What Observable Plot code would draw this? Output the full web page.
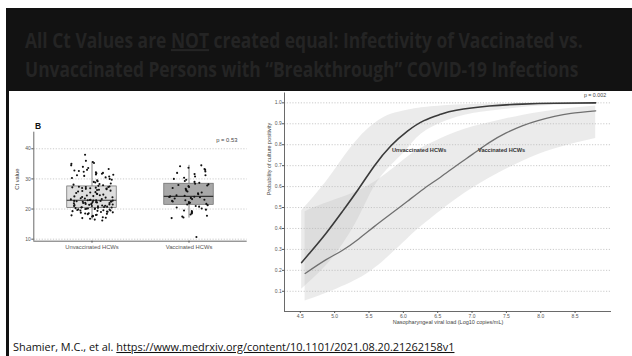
<!DOCTYPE html>
<html><head><meta charset="utf-8">
<script src="https://cdn.jsdelivr.net/npm/d3@7"></script>
<script src="https://cdn.jsdelivr.net/npm/@observablehq/plot@0.6"></script>
<style>
html,body{margin:0;padding:0;background:#fff;width:632px;height:356px;overflow:hidden;}
#slide{position:relative;width:632px;height:356px;font-family:"Liberation Sans",Arial,sans-serif;}
.abs{position:absolute;}
</style></head><body><div id="slide"></div>
<script>
// ---------- text ----------
const titleLine1 = ["All Ct Values are ", "NOT", " created equal: Infectivity of Vaccinated vs."];
const titleLine2 = ["Unvaccinated Persons with \u201cBreakthrough\u201d COVID-19 Infections"];
const citeParts = ["Shamier, M.C., et al. ", "https://www.medrxiv.org/content/10.1101/2021.08.20.21262158v1"];

// ---------- panel B (box + jitter) ----------
const groups = ["Unvaccinated HCWs", "Vaccinated HCWs"];
const ctUnvax = [16.2,16.5,16.8,17.0,17.1,17.3,17.5,17.6,17.8,17.9,18.0,18.1,18.3,18.4,18.5,18.6,18.8,18.9,19.0,19.1,19.2,19.3,19.4,19.5,19.5,19.6,19.7,19.8,19.9,20.0,20.0,20.1,20.2,20.2,20.3,
20.4,20.5,20.5,20.6,20.7,20.8,20.9,21.0,21.0,21.1,21.2,21.3,21.4,21.5,21.5,21.6,21.7,21.8,21.9,22.0,22.0,22.1,22.2,22.3,22.3,22.4,22.5,22.5,22.6,22.7,22.7,22.8,22.8,22.9,22.9,
23.0,23.1,23.2,23.3,23.5,23.6,23.8,23.9,24.0,24.2,24.3,24.5,24.6,24.8,25.0,25.1,25.3,25.5,25.6,25.8,26.0,26.1,26.3,26.4,26.6,26.7,26.8,26.9,27.0,27.1,27.2,27.3,27.3,27.4,27.5,
27.7,27.9,28.1,28.3,28.5,28.8,29.0,29.2,29.5,29.7,30.0,30.3,30.5,30.8,31.0,31.2,31.4,31.5,31.7,31.9,32.0,32.2,32.4,32.6,32.8,33.0,33.3,33.6,34.0,34.5,35.0,35.3,35.6,36.0,38.0];
const ctVax = [17.0,17.2,17.5,17.8,18.2,18.5,18.8,19.0,19.3,19.5,19.8,20.2,20.5,20.8,21.0,21.3,
21.5,21.7,21.9,22.1,22.3,22.5,22.7,22.9,23.1,23.3,23.5,23.7,23.9,24.0,24.1,24.2,
24.4,24.6,24.9,25.2,25.5,25.8,26.1,26.4,26.7,27.0,27.3,27.6,27.8,28.0,28.2,28.4,
28.7,29.0,29.3,29.7,30.0,30.4,30.8,31.2,31.6,32.0,32.5,33.0,33.3,33.7,34.2,34.5,10.7];
const boxQ1 = [20.3, 21.4];
const boxMedian = [22.9, 24.2];
const boxQ3 = [27.5, 28.4];
const whiskerLo = [16.4, 17.0];
const whiskerHi = [35.6, 34.5];
const boxFill = ["#dedede", "#a8a8a8"];
const ctTicks = [10, 20, 30, 40];
const pLeft = "p = 0.53";

// ---------- right panel (logistic curves) ----------
const vlTicks = [4.5,5.0,5.5,6.0,6.5,7.0,7.5,8.0,8.5];
const probTicks = [0.1,0.2,0.3,0.4,0.5,0.6,0.7,0.8,0.9,1.0];
const unvaxX =    [4.52,4.63,4.87,5.11,5.35,5.58,5.82,6.06,6.30,6.54,6.77,7.25,7.73,8.20,8.80];
const unvaxProb = [0.237,0.28,0.375,0.48,0.59,0.70,0.795,0.865,0.915,0.945,0.965,0.985,0.994,0.998,1.0];
const vaxX =    [4.57,4.87,5.11,5.35,5.58,5.82,6.06,6.30,6.54,6.77,7.01,7.25,7.49,7.73,7.96,8.20,8.44,8.80];
const vaxProb = [0.185,0.25,0.295,0.35,0.41,0.47,0.53,0.59,0.645,0.70,0.755,0.81,0.855,0.89,0.915,0.935,0.95,0.962];
const unvaxBandX  = [4.52,4.87,5.11,5.35,5.58,5.82,6.06,6.30,6.77,7.25,7.73,8.20,8.80];
const unvaxBandLo = [0.11,0.22,0.32,0.45,0.60,0.70,0.78,0.86,0.93,0.96,0.978,0.988,0.995];
const unvaxBandHi = [0.485,0.62,0.73,0.83,0.90,0.945,0.965,0.978,0.99,0.995,0.998,0.999,1.0];
const vaxBandX  = [4.57,4.87,5.35,5.73,6.06,6.30,6.77,7.25,7.73,8.20,8.80];
const vaxBandLo = [0.054,0.09,0.16,0.25,0.35,0.42,0.54,0.64,0.72,0.78,0.83];
const vaxBandHi = [0.48,0.52,0.58,0.655,0.74,0.79,0.86,0.905,0.94,0.965,0.985];
const curveLabels = ["Unvaccinated HCWs", "Vaccinated HCWs"];
const curveLabelX = [6.23, 7.43];
const curveLabelY = [0.772, 0.772];
const pRight = "p = 0.002";
const xLabel = "Nasopharyngeal viral load (Log10 copies/mL)";
const yLabelR = "Probability of culture positivity";
const yLabelL = "Ct value";

const slide = document.getElementById("slide");
const NS = "http://www.w3.org/2000/svg";
const FONT = "'Liberation Sans', Arial, sans-serif";

// ---------- header band, frame bar and citation ----------
{
  const svg = document.createElementNS(NS, "svg");
  svg.setAttribute("width", 632); svg.setAttribute("height", 356);
  svg.setAttribute("class", "abs"); svg.style.left = "0px"; svg.style.top = "0px";
  svg.innerHTML = `
    <rect x="6" y="8" width="626" height="83" fill="#121212"/>
    <rect x="6" y="8" width="3" height="348" fill="#111"/>`;
  slide.appendChild(svg);
  // fitted text: parts, underline index, x, baseline, target width, font size, weight, colour
  function fitted(parts, ul, x, y, target, size, weight, color) {
    const t = document.createElementNS(NS, "text");
    t.setAttribute("font-family", "'Open Sans', sans-serif");
    t.setAttribute("font-size", size);
    t.setAttribute("font-weight", weight);
    t.setAttribute("fill", color);
    parts.forEach((p, i) => {
      const s = document.createElementNS(NS, "tspan");
      s.textContent = p;
      if (i === ul) s.setAttribute("style", "text-decoration:underline");
      t.appendChild(s);
    });
    svg.appendChild(t);
    const w = t.getComputedTextLength();
    t.setAttribute("transform", `translate(${x},${y}) scale(${target / w},1)`);
  }
  fitted(titleLine1, 1, 25, 48, 558, 21, 700, "#242424");
  fitted(titleLine2, -1, 25, 77, 554, 21, 700, "#242424");
  fitted(citeParts, 1, 13, 351, 442, 10.5, 400, "#111");
}

// deterministic scatter offset for the jitter (layout only)
const jit = (i, k) => { const s = Math.sin((i + 1) * 12.9898 + k * 78.233) * 43758.5453; return s - Math.floor(s) - 0.5; };

// ---------- left panel ----------
{
  const dots = [];
  ctUnvax.forEach((v, i) => dots.push({g: 1, ct: v, j: jit(i, 1) * 0.44}));
  ctVax.forEach((v, i) => dots.push({g: 2, ct: v, j: jit(i, 2) * 0.42}));
  const boxes = groups.map((name, i) => ({g: i + 1, q1: boxQ1[i], med: boxMedian[i], q3: boxQ3[i], lo: whiskerLo[i], hi: whiskerHi[i], fill: boxFill[i]}));
  const hw = 0.255;
  const chart = Plot.plot({
    width: 250, height: 150,
    marginLeft: 25.3, marginRight: 11.3, marginTop: 23.7, marginBottom: 17.3,
    x: {domain: [0.4, 2.6]},
    y: {domain: [9.33, 45.5]},
    style: {fontFamily: FONT, background: "transparent", overflow: "visible"},
    marks: [
      Plot.ruleY(ctTicks, {stroke: "#b5b5b5", strokeWidth: 0.7, strokeDasharray: "1.2,1.6"}),
      Plot.ruleX(boxes, {x: "g", y1: "q3", y2: "hi", stroke: "#666", strokeWidth: 0.8}),
      Plot.ruleX(boxes, {x: "g", y1: "lo", y2: "q1", stroke: "#666", strokeWidth: 0.8}),
      Plot.rect(boxes, {x1: d => d.g - hw, x2: d => d.g + hw, y1: "q1", y2: "q3", fill: "fill", stroke: "#666", strokeWidth: 0.7}),
      Plot.ruleY(boxes, {y: "med", x1: d => d.g - hw, x2: d => d.g + hw, stroke: "#333", strokeWidth: 1.1}),
      Plot.dot(dots, {x: d => d.g + d.j, y: "ct", r: 1.05, fill: "#111", stroke: null}),
      Plot.ruleX([0.4], {stroke: "#444", strokeWidth: 0.8}),
      Plot.ruleY([9.33], {stroke: "#444", strokeWidth: 0.8}),
      Plot.axisY(ctTicks, {tickSize: 2, tickPadding: 1, fontSize: 5, fill: "#555", stroke: "#555", label: null}),
      Plot.axisX([1, 2], {tickFormat: i => groups[i - 1], tickSize: 2, tickPadding: 2, fontSize: 5.8, fill: "#555", stroke: "#555", label: null}),
      Plot.text([yLabelL], {frameAnchor: "left", dx: -16.6, dy: 3, rotate: -90, fontSize: 5.8, fill: "#444"}),
      Plot.text([pLeft], {x: 2.39, y: 42.8, fontSize: 5.8, fill: "#444"}),
      Plot.text(["B"], {frameAnchor: "top-left", textAnchor: "start", dx: 1.2, dy: -9, fontSize: 8.5, fontWeight: "bold", fill: "#111"})
    ]
  });
  chart.setAttribute("class", "abs");
  chart.style.left = "8px"; chart.style.top = "108px";
  slide.appendChild(chart);
}

// ---------- right panel ----------
{
  const unvaxLine = unvaxX.map((x, i) => ({x, p: unvaxProb[i]}));
  const vaxLine = vaxX.map((x, i) => ({x, p: vaxProb[i]}));
  const unvaxBand = unvaxBandX.map((x, i) => ({x, lo: unvaxBandLo[i], hi: unvaxBandHi[i]}));
  const vaxBand = vaxBandX.map((x, i) => ({x, lo: vaxBandLo[i], hi: vaxBandHi[i]}));
  const labels = curveLabels.map((t, i) => ({t, x: curveLabelX[i], y: curveLabelY[i]}));
  const chart = Plot.plot({
    width: 370, height: 246,
    marginLeft: 22, marginRight: 21, marginTop: 2.5, marginBottom: 25,
    x: {domain: [4.27, 9.03]},
    y: {domain: [0.0035, 1.047]},
    style: {fontFamily: FONT, background: "transparent", overflow: "visible"},
    marks: [
      Plot.ruleY(probTicks, {stroke: "#b5b5b5", strokeWidth: 0.7, strokeDasharray: "1.2,1.6"}),
      Plot.areaY(unvaxBand, {x: "x", y1: "lo", y2: "hi", fill: "#bdbdbd", fillOpacity: 0.3, curve: "natural"}),
      Plot.areaY(vaxBand, {x: "x", y1: "lo", y2: "hi", fill: "#bdbdbd", fillOpacity: 0.3, curve: "natural"}),
      Plot.line(vaxLine, {x: "x", y: "p", stroke: "#707070", strokeWidth: 1.3, curve: "natural"}),
      Plot.line(unvaxLine, {x: "x", y: "p", stroke: "#3a3a3a", strokeWidth: 1.6, curve: "natural"}),
      Plot.text(labels, {x: "x", y: "y", text: "t", fontSize: 5.6, fontWeight: "bold", fill: "#333"}),
      Plot.text([pRight], {x: 8.79, y: 1.035, fontSize: 5.3, fill: "#444"}),
      Plot.ruleX([4.27], {stroke: "#444", strokeWidth: 0.8}),
      Plot.ruleY([0.0035], {stroke: "#444", strokeWidth: 0.8}),
      Plot.axisY(probTicks, {tickFormat: d => d.toFixed(1), tickSize: 2, tickPadding: 0.8, fontSize: 5, fill: "#555", stroke: "#555", label: null}),
      Plot.axisX(vlTicks, {tickFormat: d => d.toFixed(1), tickSize: 2, tickPadding: 1, fontSize: 5, fill: "#555", stroke: "#555", label: null}),
      Plot.text([xLabel], {frameAnchor: "bottom", dy: 12.5, fontSize: 5.5, fill: "#444"}),
      Plot.text([yLabelR], {frameAnchor: "left", dx: -15.5, dy: -7, rotate: -90, fontSize: 5.5, fill: "#444"})
    ]
  });
  chart.setAttribute("class", "abs");
  chart.style.left = "262px"; chart.style.top = "90px";
  slide.appendChild(chart);
}
</script></body></html>
